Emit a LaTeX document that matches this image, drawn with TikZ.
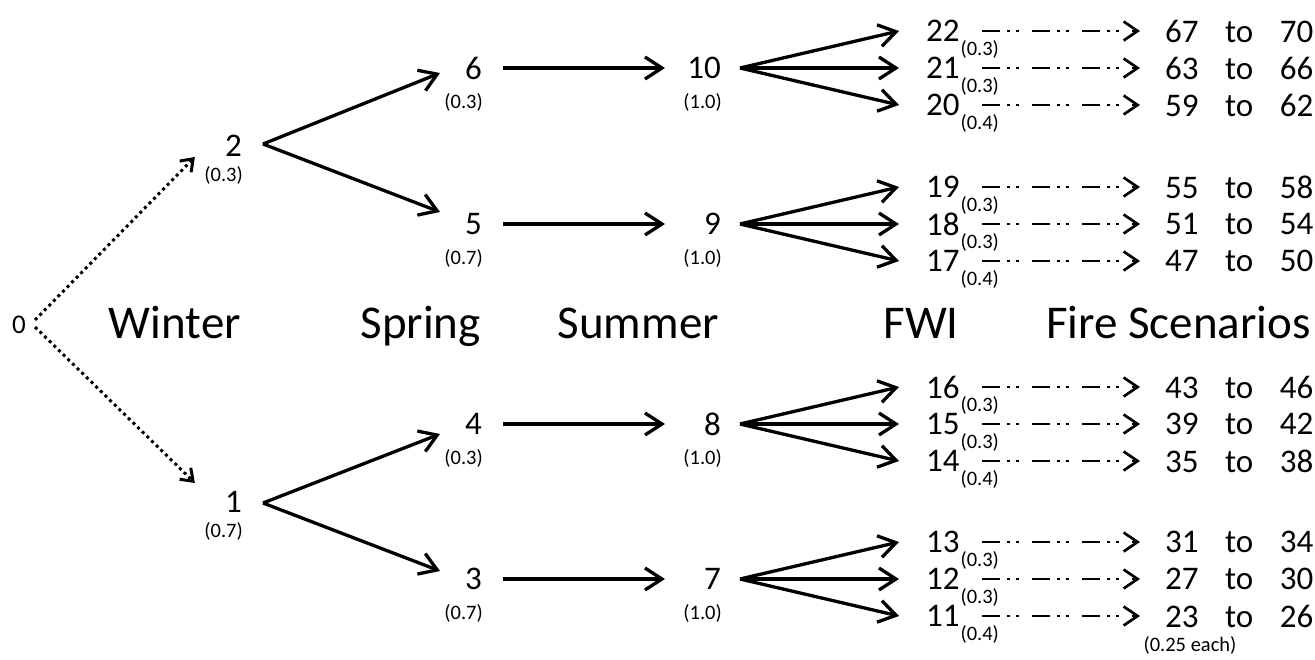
\documentclass[tikz,border=0pt]{standalone}
\usepackage{fontspec}
\setmainfont{Carlito}
\usetikzlibrary{arrows.meta,calc}
\begin{document}
\begin{tikzpicture}[x=1pt,y=-1pt,
  num/.style={font=\fontsize{33}{33}\selectfont,inner sep=0pt,anchor=east},
  prob/.style={font=\fontsize{20.5}{22}\selectfont,inner sep=0pt,anchor=base east},
  stage/.style={font=\fontsize{47}{47}\selectfont,inner sep=0pt,anchor=base east},
  fwi/.style={font=\fontsize{33}{33}\selectfont,inner sep=0pt,anchor=west},
  sub/.style={font=\fontsize{20.5}{22}\selectfont,inner sep=0pt,anchor=base west},
  scen/.style={font=\fontsize{33}{33}\selectfont,inner sep=0pt,anchor=west},
  solidarr/.style={line width=3.3pt,-{Straight Barb[length=17pt,width=22pt]}},
  dotarr/.style={line width=3pt,dash pattern=on 3pt off 3.5pt,-{Straight Barb[length=11pt,width=16pt]}},
  dasharr/.style={line width=2.7pt,dash pattern=on 18pt off 7pt on 3pt off 6pt on 3pt off 13pt,-{Straight Barb[length=14pt,width=19pt]}}]
\useasboundingbox (0,0) rectangle (1315,659);

% root
\node[font=\fontsize{27}{27}\selectfont,inner sep=0pt] (n0) at (19,325) {0};

% winter outcomes
\node[num] (n2) at (242,146) {2};
\node[prob] (p2) at (243,181) {(0.3)};
\node[num] (n1) at (242,502) {1};
\node[prob] (p1) at (243,537) {(0.7)};

% spring outcomes
\node[num] (n6) at (482,68) {6};
\node[prob] (p6) at (483,108) {(0.3)};
\node[num] (n5) at (482,224) {5};
\node[prob] (p5) at (483,264) {(0.7)};
\node[num] (n4) at (482,424) {4};
\node[prob] (p4) at (483,464) {(0.3)};
\node[num] (n3) at (482,579) {3};
\node[prob] (p3) at (483,619) {(0.7)};

% summer outcomes
\node[num] (n10) at (721,68) {10};
\node[prob] (p10) at (722,108) {(1.0)};
\node[num] (n9) at (721,224) {9};
\node[prob] (p9) at (722,264) {(1.0)};
\node[num] (n8) at (721,424) {8};
\node[prob] (p8) at (722,464) {(1.0)};
\node[num] (n7) at (721,579) {7};
\node[prob] (p7) at (722,619) {(1.0)};

% stage headings
\node[stage] (hw) at (241,338) {Winter};
\node[stage] (hsp) at (481,338) {Spring};
\node[stage] (hsu) at (719,338) {Summer};
\node[stage] (hf) at (959,338) {FWI};
\node[stage] (hfs) at (1311,338) {Fire Scenarios};

% winter branches
\draw[dotarr] ($(n0.east)+(9,-5)$) -- ($(n2.west)+(-30,11)$);
\draw[dotarr] ($(n0.east)+(9,2)$) -- ($(n1.west)+(-30,-19)$);

% spring branches
\draw[solidarr] ($(n2.east)+(21,-2)$) -- ($(n6.east)+(-42,5)$);
\draw[solidarr] ($(n2.east)+(21,-2)$) -- ($(n5.east)+(-42,-12)$);
\draw[solidarr] ($(n1.east)+(21,1)$) -- ($(n4.east)+(-42,10)$);
\draw[solidarr] ($(n1.east)+(21,1)$) -- ($(n3.east)+(-42,-8)$);

% summer branches
\foreach \a/\b in {n6/n10,n5/n9,n4/n8,n3/n7}
  \draw[solidarr] ($(\a.east)+(21,0)$) -- ($(\b.east)+(-56,0)$);

% FWI classes and fire scenarios
\foreach \f/\p/\a/\b/\y/\src in {
  22/0.3/67/70/31/n10, 21/0.3/63/66/68/n10, 20/0.4/59/62/105/n10,
  19/0.3/55/58/187/n9, 18/0.3/51/54/224/n9, 17/0.4/47/50/261/n9,
  16/0.3/43/46/387/n8, 15/0.3/39/42/424/n8, 14/0.4/35/38/461/n8,
  13/0.3/31/34/542/n7, 12/0.3/27/30/579/n7, 11/0.4/23/26/616/n7}{
  \node[fwi] (f\f) at (926,\y) {\f};
  \node[sub] (q\f) at ($(f\f.base east)+(0.5,13.5)$) {(\p)};
  \node[scen] (r\f) at (1165,\y) {\a\hspace{26.5pt}to\hspace{26.5pt}\b};
  \draw[solidarr] ($(\src.east)+(19,0)$) -- ($(f\f.west)+(-27,0)$);
  \draw[dasharr] ($(f\f.east)+(22,0)$) -- ($(r\f.west)+(-25,0)$);
}
\node[prob,anchor=base] (each) at (1190,651) {(0.25 each)};
\end{tikzpicture}
\end{document}
